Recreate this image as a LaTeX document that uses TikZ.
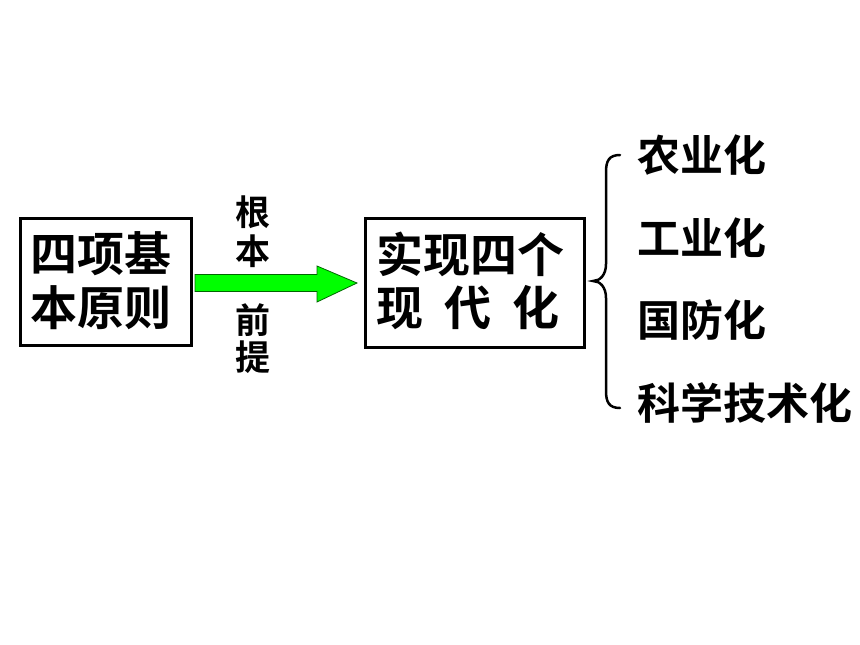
\documentclass[tikz,border=0pt]{standalone}
\usepackage{fontspec}
\usetikzlibrary{calc}
\newfontfamily\cjk{Noto Sans CJK SC Bold}
\begin{document}
\begin{tikzpicture}[x=1pt,y=-1pt,
  bigtxt/.style={font=\cjk\fontsize{47}{47}\selectfont,inner sep=0pt,anchor=west},
  itemtxt/.style={font=\cjk\fontsize{43}{43}\selectfont,inner sep=0pt,anchor=west},
  lbltxt/.style={font=\cjk\fontsize{35}{35}\selectfont,inner sep=0pt}]
\useasboundingbox[fill=white] (0,0) rectangle (860,645);
% box 1
\draw[line width=3pt] (20,218) rectangle (191,345);
\node[bigtxt] (a1) at (30,254) {四项基};
\node[bigtxt] (a2) at (30,308) {本原则};
% box 2
\draw[line width=3pt] (365,218) rectangle (584,347);
\node[bigtxt] (b1) at (376,254) {实现四个};
\node[bigtxt] (b2) at (376,308) {现\hspace{0.45em}代\hspace{0.45em}化};
% arrow
\coordinate (s) at (195,283);
\coordinate (t) at (357,283);
\filldraw[fill=green!100,draw=green!40!black,line width=0.8pt]
  ($(s)+(0,-8.5)$) -- (317,274.5) -- (317,266) -- (t) -- (317,302) -- (317,291.5) -- ($(s)+(0,8.5)$) -- cycle;
% labels
\node[lbltxt] (l1) at (253,212) {根};
\node[lbltxt] (l2) at (253,251) {本};
\node[lbltxt] (l3) at (253,320) {前};
\node[lbltxt] (l4) at (253,357) {提};
% brace
\draw[line width=2.5pt,line cap=round]
  (620,155) .. controls (609,155) and (606,161) .. (606,172) -- (606,264)
  .. controls (606,275) and (600,281) .. (593,281)
  .. controls (600,281) and (606,287) .. (606,298) -- (606,391)
  .. controls (606,402) and (609,408) .. (620,408);
% items
\node[itemtxt] (i1) at (637,155) {农业化};
\node[itemtxt] (i2) at (637,238) {工业化};
\node[itemtxt] (i3) at (637,320) {国防化};
\node[itemtxt] (i4) at (637,403) {科学技术化};
\end{tikzpicture}
\end{document}
